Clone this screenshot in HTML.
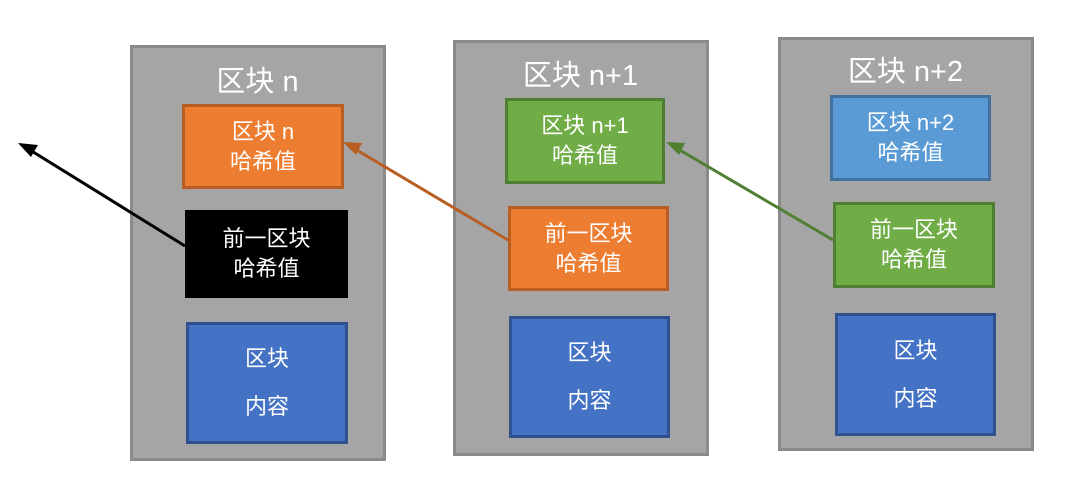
<!DOCTYPE html>
<html><head><meta charset="utf-8"><style>
body{margin:0;width:1080px;height:485px;background:#fff;position:relative;overflow:hidden;font-family:"Liberation Sans","Noto Sans CJK SC",sans-serif}
.blk{position:absolute;background:#a5a5a5;border:3px solid #8a8a8a;box-sizing:border-box}
.t{position:absolute;color:#fff;font-size:29px;text-align:center;width:255px;line-height:34px}
.b{position:absolute;box-sizing:border-box;border:3px solid;color:#fff;font-size:22px;line-height:30px;display:flex;align-items:center;justify-content:center;text-align:center}
.o{background:#ed7d31;border-color:#b85e22}
.g{background:#70ad47;border-color:#507e32}
.lb{background:#5b9bd5;border-color:#41719c}
.db{background:#4472c4;border-color:#2f528f;line-height:48px}
.k{background:#000;border-color:#000}
svg{position:absolute;left:0;top:0}
</style></head><body>
<div class="blk" style="left:130px;top:45px;width:256px;height:416px"></div>
<div class="blk" style="left:453px;top:40px;width:256px;height:416px"></div>
<div class="blk" style="left:778px;top:37px;width:256px;height:414px"></div>
<div class="t" style="left:130px;top:65px">区块 n</div>
<div class="t" style="left:453px;top:59px">区块 n+1</div>
<div class="t" style="left:778px;top:55px">区块 n+2</div>

<div class="b o" style="left:182px;top:104px;width:162px;height:85px">区块 n<br>哈希值</div>
<div class="b k" style="left:185px;top:210px;width:163px;height:88px">前一区块<br>哈希值</div>
<div class="b db" style="left:186px;top:322px;width:162px;height:122px">区块<br>内容</div>

<div class="b g" style="left:505px;top:98px;width:160px;height:86px">区块 n+1<br>哈希值</div>
<div class="b o" style="left:508px;top:206px;width:161px;height:85px">前一区块<br>哈希值</div>
<div class="b db" style="left:509px;top:316px;width:161px;height:122px">区块<br>内容</div>

<div class="b lb" style="left:830px;top:95px;width:161px;height:86px">区块 n+2<br>哈希值</div>
<div class="b g" style="left:833px;top:202px;width:162px;height:86px">前一区块<br>哈希值</div>
<div class="b db" style="left:835px;top:313px;width:161px;height:123px">区块<br>内容</div>

<svg width="1080" height="485">
<line x1="185" y1="246" x2="30" y2="150" stroke="#000" stroke-width="3"/>
<polygon points="18,143 38,145 31,157" fill="#000"/>
<line x1="508" y1="240" x2="355" y2="149" stroke="#b85e22" stroke-width="3"/>
<polygon points="343,142 362,143 356,155" fill="#b85e22"/>
<line x1="833" y1="240" x2="678" y2="149" stroke="#507e32" stroke-width="3"/>
<polygon points="666,142 685,143 679,155" fill="#507e32"/>
</svg>
</body></html>
